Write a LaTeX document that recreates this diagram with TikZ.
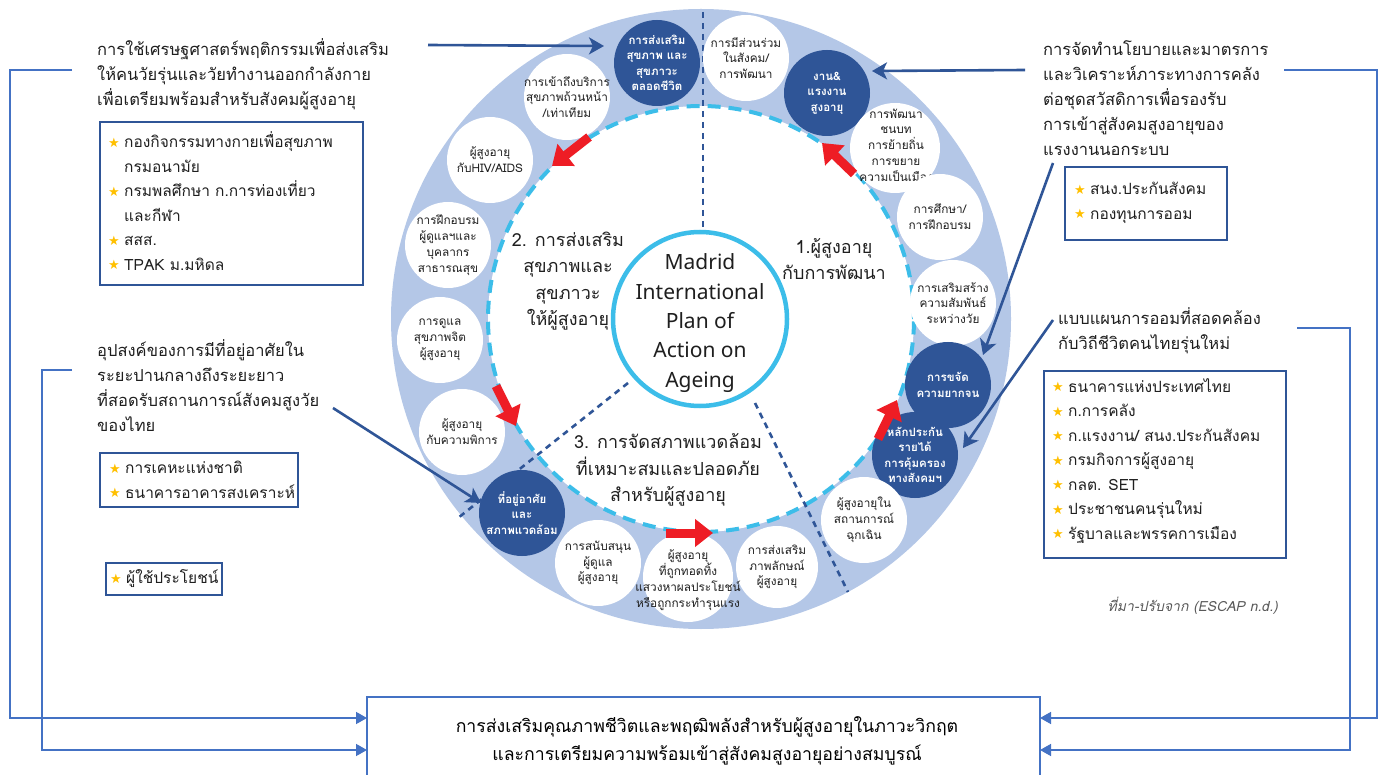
\documentclass[tikz,border=0pt]{standalone}
\usepackage{fontspec}
\setmainfont{Loma}[Script=Thai]
\newfontfamily\symf{DejaVu Sans}
\newfontfamily\latf{Noto Sans}
\usetikzlibrary{arrows.meta}
\definecolor{ringc}{HTML}{B4C7E7}
\definecolor{dkb}{HTML}{2F5597}
\definecolor{cyanc}{HTML}{3CBDE9}
\definecolor{lnb}{HTML}{4472C4}
\definecolor{redc}{HTML}{EE1D25}
\definecolor{starc}{HTML}{FFC000}
\definecolor{txtc}{HTML}{1F1F1F}
\definecolor{srcc}{HTML}{595959}
\newcommand\mystar{\makebox[16pt][l]{\raisebox{0.5pt}{\symf\fontsize{13}{13}\selectfont\textcolor{starc}{★}}}}
\newcommand\myind{\hspace*{16pt}}
\begin{document}
\begin{tikzpicture}[x=1pt,y=-1pt,
  wc/.style={circle,fill=white,minimum size=86pt,inner sep=0pt},
  dc/.style={circle,fill=dkb,minimum size=86pt,inner sep=0pt},
  wt/.style={align=center,inner sep=0pt,text=txtc,font=\fontsize{11.8}{15.8}\selectfont},
  dt/.style={align=center,inner sep=0pt,text=white,font=\bfseries\fontsize{11.5}{15.5}\selectfont},
  sec/.style={align=center,inner sep=0pt,text=txtc,font=\fontsize{18}{26.5}\selectfont},
  para/.style={align=left,inner sep=0pt,anchor=west,text=txtc,font=\fontsize{16.5}{25}\selectfont},
  lst/.style={align=left,inner sep=0pt,anchor=west,text=txtc,font=\fontsize{15.5}{24.5}\selectfont},
  lbox/.style={draw=dkb,line width=1.3pt,inner sep=0pt},
  divs/.style={draw=dkb,line width=2.6pt,dash pattern=on 6pt off 5pt},
  redar/.style={draw=redc,line width=9pt,-{Triangle[length=18pt,width=27pt]}},
  dka/.style={draw=dkb,line width=2.6pt,-{Stealth[length=15pt,width=17pt,inset=4pt]}},
  side/.style={draw=lnb,line width=1.5pt,-{Triangle[length=11pt,width=12pt]}}
]
\useasboundingbox (0,0) rectangle (1387,775);
\fill[white] (0,0) rectangle (1387,775);
% ring
\coordinate (ctr) at (701,319);
\fill[ringc] (ctr) circle[radius=310pt];
\fill[white] (ctr) circle[radius=213pt];
\draw[cyanc,line width=4pt,dash pattern=on 13pt off 8pt] (ctr) circle[radius=213pt];
% dividers
\coordinate (d1a) at (703,12);
\coordinate (d1b) at (703,229);
\coordinate (d2a) at (628,383);
\coordinate (d2b) at (458,518);
\coordinate (d3a) at (755,403);
\coordinate (d3b) at (848,592);
\draw[divs] (d1a) -- (d1b);
\draw[divs] (d2a) -- (d2b);
\draw[divs] (d3a) -- (d3b);
% centre
\node[circle,draw=cyanc,line width=4.5pt,fill=white,minimum size=174pt] (mipaa) at (700,319) {};
\node[align=center,inner sep=0pt,text=txtc,font=\latf\fontsize{21}{29.3}\selectfont] (mipaat) at (700,323) {Madrid\\International\\Plan of\\Action on\\Ageing};
% section labels
\node[sec] (s2) at (568,281) {2. การส่งเสริม\\สุขภาพและ\\สุขภาวะ\\ให้ผู้สูงอายุ};
\node[sec] (s1) at (834,259) {1.ผู้สูงอายุ\\กับการพัฒนา};
\node[sec] (s3) at (668,470) {3. การจัดสภาพแวดล้อม\\ที่เหมาะสมและปลอดภัย\\สำหรับผู้สูงอายุ};
% bubbles
\node[dc] (b1) at (657,63) {};
\node[dt] (b1t) at (b1) {การส่งเสริม\\สุขภาพ และ\\สุขภาวะ\\ตลอดชีวิต};
\node[wc] (b2) at (746,58) {};
\node[wt] (b2t) at (b2) {การมีส่วนร่วม\\ในสังคม/\\การพัฒนา};
\node[dc] (b3) at (827,93) {};
\node[dt] (b3t) at (b3) {งาน\&\\แรงงาน\\สูงอายุ};
\node[wc,minimum size=90pt] (b4) at (895,148) {};
\node[wt] (b4t) at (896,145) {การพัฒนา\\ชนบท\\การย้ายถิ่น\\การขยาย\\ความเป็นเมือง};
\node[wc] (b5) at (940,217) {};
\node[wt] (b5t) at (b5) {การศึกษา/\\การฝึกอบรม};
\node[wc] (b6) at (953,303) {};
\node[wt] (b6t) at (b6) {การเสริมสร้าง\\ความสัมพันธ์\\ระหว่างวัย};
\node[dc] (b7) at (948,385) {};
\node[dt] (b7t) at (b7) {การขจัด\\ความยากจน};
\node[dc] (b8) at (915,455) {};
\node[dt] (b8t) at (b8) {หลักประกัน\\รายได้\\การคุ้มครอง\\ทางสังคมฯ};
\node[wc] (b9) at (864,520) {};
\node[wt] (b9t) at (b9) {ผู้สูงอายุใน\\สถานการณ์\\ฉุกเฉิน};
\node[wc,minimum size=82pt] (b10) at (777,567) {};
\node[wt] (b10t) at (b10) {การส่งเสริม\\ภาพลักษณ์\\ผู้สูงอายุ};
\node[wc,minimum size=90pt] (b11) at (688,577) {};
\node[wt] (b11t) at (688,580) {ผู้สูงอายุ\\ที่ถูกทอดทิ้ง\\แสวงหาผลประโยชน์\\หรือถูกกระทำรุนแรง};
\node[wc] (b12) at (598,563) {};
\node[wt] (b12t) at (b12) {การสนับสนุน\\ผู้ดูแล\\ผู้สูงอายุ};
\node[dc] (b13) at (522,513) {};
\node[dt] (b13t) at (b13) {ที่อยู่อาศัย\\และ\\สภาพแวดล้อม};
\node[wc] (b14) at (462,432) {};
\node[wt] (b14t) at (b14) {ผู้สูงอายุ\\กับความพิการ};
\node[wc] (b15) at (440,340) {};
\node[wt] (b15t) at (b15) {การดูแล\\สุขภาพจิต\\ผู้สูงอายุ};
\node[wc] (b16) at (448,245) {};
\node[wt] (b16t) at (b16) {การฝึกอบรม\\ผู้ดูแลฯและ\\บุคลากร\\สาธารณสุข};
\node[wc] (b17) at (490,160) {};
\node[wt] (b17t) at (b17) {ผู้สูงอายุ\\กับHIV/AIDS};
\node[wc] (b18) at (567,97) {};
\node[wt] (b18t) at (b18) {การเข้าถึงบริการ\\สุขภาพถ้วนหน้า\\/เท่าเทียม};
% red arrows
\coordinate (r1a) at (589,137); \coordinate (r1b) at (552,166);
\coordinate (r2a) at (854,174); \coordinate (r2b) at (822,143);
\coordinate (r3a) at (496,386); \coordinate (r3b) at (516,426);
\coordinate (r4a) at (666,533); \coordinate (r4b) at (713,533);
\coordinate (r5a) at (878,439); \coordinate (r5b) at (897,400);
\draw[redar] (r1a) -- (r1b);
\draw[redar] (r2a) -- (r2b);
\draw[redar] (r3a) -- (r3b);
\draw[redar] (r4a) -- (r4b);
\draw[redar] (r5a) -- (r5b);
% side texts
\node[para] (tl) at (97,74) {การใช้เศรษฐศาสตร์พฤติกรรมเพื่อส่งเสริม\\ให้คนวัยรุ่นและวัยทำงานออกกำลังกาย\\เพื่อเตรียมพร้อมสำหรับสังคมผู้สูงอายุ};
\node[lbox,minimum width=263pt,minimum height=163pt] (bx1) at (231.5,203.5) {};
\node[lst] (bx1t) at (108,201) {\mystar กองกิจกรรมทางกายเพื่อสุขภาพ\\\myind กรมอนามัย\\\mystar กรมพลศึกษา ก.การท่องเที่ยว\\\myind และกีฬา\\\mystar สสส.\\\mystar TPAK ม.มหิดล};
\node[para] (ml) at (97,386) {อุปสงค์ของการมีที่อยู่อาศัยใน\\ระยะปานกลางถึงระยะยาว\\ที่สอดรับสถานการณ์สังคมสูงวัย\\ของไทย};
\node[lbox,minimum width=198pt,minimum height=54pt] (bx2) at (199,480) {};
\node[lst] (bx2t) at (109,480) {\mystar การเคหะแห่งชาติ\\\mystar ธนาคารอาคารสงเคราะห์};
\node[lbox,minimum width=116pt,minimum height=32pt] (bx3) at (164,579) {};
\node[lst] (bx3t) at (110,579) {\mystar ผู้ใช้ประโยชน์};
\node[para] (tr) at (1043,98) {การจัดทำนโยบายและมาตรการ\\และวิเคราะห์ภาระทางการคลัง\\ต่อชุดสวัสดิการเพื่อรองรับ\\การเข้าสู่สังคมสูงอายุของ\\แรงงานนอกระบบ};
\node[lbox,minimum width=162pt,minimum height=73pt] (bx4) at (1146,203.5) {};
\node[lst] (bx4t) at (1074,203) {\mystar สนง.ประกันสังคม\\\mystar กองทุนการออม};
\node[para] (mr) at (1058,331) {แบบแผนการออมที่สอดคล้อง\\กับวิถีชีวิตคนไทยรุ่นใหม่};
\node[lbox,minimum width=242pt,minimum height=187pt] (bx5) at (1165,464.5) {};
\node[lst] (bx5t) at (1052,461) {\mystar ธนาคารแห่งประเทศไทย\\\mystar ก.การคลัง\\\mystar ก.แรงงาน/ สนง.ประกันสังคม\\\mystar กรมกิจการผู้สูงอายุ\\\mystar กลต. SET\\\mystar ประชาชนคนรุ่นใหม่\\\mystar รัฐบาลและพรรคการเมือง};
\node[anchor=east,inner sep=0pt,text=srcc,font=\itshape\fontsize{14}{16}\selectfont] (src) at (1278,606) {ที่มา-ปรับจาก (ESCAP n.d.)};
% dark arrows
\coordinate (a1s) at (428,45); \coordinate (a1e) at (604,46);
\coordinate (a2s) at (1025,70); \coordinate (a2e) at (872,71);
\coordinate (a3s) at (1053,163); \coordinate (a3e) at (983,355);
\coordinate (a4s) at (1053,320); \coordinate (a4e) at (963,448);
\coordinate (a5s) at (333,408); \coordinate (a5e) at (481,503);
\draw[dka] (a1s) -- (a1e);
\draw[dka] (a2s) -- (a2e);
\draw[dka] (a3s) -- (a3e);
\draw[dka] (a4s) -- (a4e);
\draw[dka] (a5s) -- (a5e);
% bottom box
\node[draw=lnb,line width=1.5pt,minimum width=673pt,minimum height=80pt,inner sep=0pt] (goal) at (703.5,737) {};
\node[align=center,inner sep=0pt,text=black,font=\fontsize{17.7}{28}\selectfont] (goalt) at (707,741) {การส่งเสริมคุณภาพชีวิตและพฤฒิพลังสำหรับผู้สูงอายุในภาวะวิกฤต\\และการเตรียมความพร้อมเข้าสู่สังคมสูงอายุอย่างสมบูรณ์};
% side connectors
\coordinate (L1) at (72,70); \coordinate (L2) at (72,370);
\coordinate (R1) at (1284,70); \coordinate (R2) at (1297,328);
\coordinate (gL1) at (367,718); \coordinate (gL2) at (367,750);
\coordinate (gR1) at (1040,718); \coordinate (gR2) at (1040,750);
\draw[side] (L1) -- (10,70) |- (gL1);
\draw[side] (L2) -- (42,370) |- (gL2);
\draw[side] (R1) -- (1377,70) |- (gR1);
\draw[side] (R2) -- (1350,328) |- (gR2);
\end{tikzpicture}
\end{document}
